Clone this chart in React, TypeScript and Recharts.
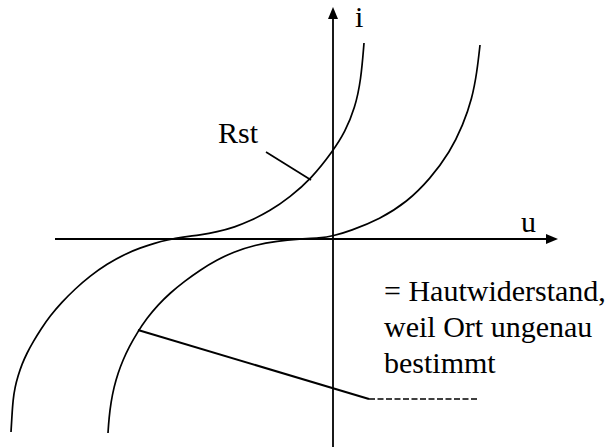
import React from "react";
import { ComposedChart, Line, XAxis, YAxis, ReferenceLine, ReferenceDot } from "recharts";

// u = voltage (horizontal), i = current (vertical), in drawing units
const rstCurve = [
  { u: -322, i: -193 }, { u: -321, i: -176 }, { u: -320, i: -161 }, { u: -318, i: -148 },
  { u: -315, i: -137 }, { u: -311, i: -125 }, { u: -306, i: -114 }, { u: -300, i: -103 },
  { u: -292, i: -90 }, { u: -283, i: -77 }, { u: -271, i: -63 }, { u: -258, i: -50 },
  { u: -243, i: -37 }, { u: -226, i: -25 }, { u: -208, i: -15 }, { u: -193, i: -9 },
  { u: -178, i: -4 }, { u: -166, i: -1 }, { u: -150, i: 2 }, { u: -133, i: 4 },
  { u: -116, i: 7 }, { u: -98, i: 12 }, { u: -83, i: 18 }, { u: -63, i: 28 },
  { u: -43, i: 42 }, { u: -22, i: 60 }, { u: 0, i: 88 }, { u: 12, i: 107 },
  { u: 22, i: 131 }, { u: 28, i: 159 }, { u: 31, i: 196 },
];

const hautCurve = [
  { u: -225, i: -194 }, { u: -224, i: -179 }, { u: -222, i: -163 }, { u: -219, i: -148 },
  { u: -215, i: -134 }, { u: -210, i: -121 }, { u: -204, i: -108 }, { u: -196, i: -94 },
  { u: -186, i: -79 }, { u: -175, i: -66 }, { u: -163, i: -54 }, { u: -148, i: -42 },
  { u: -133, i: -31 }, { u: -116, i: -21 }, { u: -100, i: -13 }, { u: -78, i: -6 },
  { u: -56, i: -2 }, { u: -33, i: 0 }, { u: -13, i: 1 }, { u: 0, i: 3 },
  { u: 17, i: 8 }, { u: 47, i: 20 }, { u: 74, i: 37 }, { u: 97, i: 60 },
  { u: 117, i: 87 }, { u: 130, i: 114 }, { u: 139, i: 140 }, { u: 144, i: 167 },
  { u: 147, i: 194 },
];

const xDomain = [-333, 278];
const yDomain = [-209, 239];
const W = 611;
const H = 448;

const axisU = { start: -278, end: 216, tip: 225 };
const axisI = { start: -208, end: 222, tip: 232 };

const labels = [
  { text: "i", u: 22, i: 212 },
  { text: "u", u: 188, i: 7 },
  { text: "Rst", u: -115, i: 96 },
  { text: "= Hautwiderstand,", u: 51, i: -62 },
  { text: "weil Ort ungenau", u: 51, i: -98 },
  { text: "bestimmt", u: 51, i: -134 },
];

const rstLeader = [{ u: -67, i: 87 }, { u: -22, i: 59 }];
const hautLeader = [{ u: -195, i: -91 }, { u: 36, i: -160 }];
const hautDashed = [{ u: 36, i: -160 }, { u: 146, i: -160 }];

const FONT = "Liberation Serif";

export default function App() {
  return (
    <div style={{ position: "absolute", left: 0, top: 0, width: W, height: H, background: "#fff" }}>
      <ComposedChart width={W} height={H} margin={{ top: 0, right: 0, bottom: 0, left: 0 }}>
        <XAxis dataKey="u" type="number" domain={xDomain} allowDataOverflow hide />
        <YAxis dataKey="i" type="number" domain={yDomain} allowDataOverflow hide />
        <ReferenceLine
          segment={[{ x: axisU.start, y: 0 }, { x: axisU.end, y: 0 }]}
          stroke="#000" strokeWidth={2.2}
        />
        <ReferenceLine
          segment={[{ x: 0, y: axisI.start }, { x: 0, y: axisI.end }]}
          stroke="#000" strokeWidth={1.8}
        />
        <ReferenceDot
          x={axisU.tip} y={0} r={0}
          shape={(p: any) => (
            <polygon points={`${p.cx},${p.cy} ${p.cx - 12},${p.cy - 5} ${p.cx - 12},${p.cy + 5}`} fill="#000" />
          )}
        />
        <ReferenceDot
          x={0} y={axisI.tip} r={0}
          shape={(p: any) => (
            <polygon points={`${p.cx},${p.cy} ${p.cx - 5},${p.cy + 12} ${p.cx + 5},${p.cy + 12}`} fill="#000" />
          )}
        />
        <Line data={rstCurve} dataKey="i" type="basis" stroke="#000" strokeWidth={1.7}
          dot={false} activeDot={false} isAnimationActive={false} />
        <Line data={hautCurve} dataKey="i" type="basis" stroke="#000" strokeWidth={1.7}
          dot={false} activeDot={false} isAnimationActive={false} />
        <ReferenceLine
          segment={[{ x: rstLeader[0].u, y: rstLeader[0].i }, { x: rstLeader[1].u, y: rstLeader[1].i }]}
          stroke="#000" strokeWidth={1.7}
        />
        <ReferenceLine
          segment={[{ x: hautLeader[0].u, y: hautLeader[0].i }, { x: hautLeader[1].u, y: hautLeader[1].i }]}
          stroke="#000" strokeWidth={2}
        />
        <ReferenceLine
          segment={[{ x: hautDashed[0].u, y: hautDashed[0].i }, { x: hautDashed[1].u, y: hautDashed[1].i }]}
          stroke="#000" strokeWidth={1.5} strokeDasharray="6 2.5"
        />
        {labels.map((l) => (
          <ReferenceDot
            key={l.text}
            x={l.u} y={l.i} r={0}
            shape={(p: any) => (
              <text x={p.cx} y={p.cy} fontFamily={FONT} fontSize={30} fill="#000">{l.text}</text>
            )}
          />
        ))}
      </ComposedChart>
    </div>
  );
}
